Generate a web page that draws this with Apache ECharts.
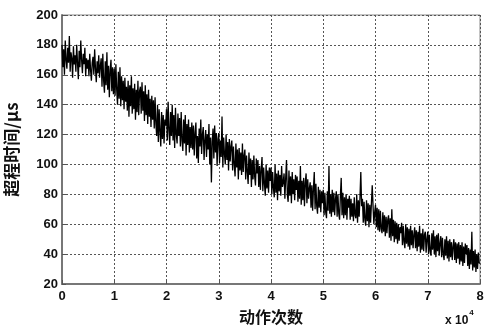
<!DOCTYPE html>
<html><head><meta charset="utf-8">
<script src="https://cdn.jsdelivr.net/npm/echarts@6/dist/echarts.min.js"></script>
<style>html,body{margin:0;padding:0;background:#fff}#c{width:484px;height:327px}</style>
</head><body><div id="c"></div>
<script>
// x in units of 10^4 actions; one sample every 0.015625 (x 10^4)
var sampleStep = 0.015625;
var xTicks = [0,1,2,3,4,5,6,7,8];
var yTicks = [20,40,60,80,100,120,140,160,180,200];
var overtravelTime = [
180,165,177,160,183,170,164,178,168,186,162,175,171,158,179,167,
173,162,180,168,157,176,165,183,170,161,174,167,178,159,171,164,
170,159,174,163,156,168,172,160,177,164,155,169,161,173,158,166,
171,152,174,156,148,169,153,175,150,166,145,163,170,149,165,147,
164,146,167,150,140,162,144,165,139,159,143,156,137,158,142,152,
136,156,132,153,139,159,134,151,137,154,130,150,135,156,133,149,
152,134,155,136,149,129,153,133,147,127,150,132,144,125,146,130,
143,124,145,127,119,140,115,137,122,112,135,117,133,114,130,126,
137,116,142,123,113,135,119,140,116,133,111,138,120,114,134,119,
131,112,135,116,109,130,114,133,106,127,113,130,108,125,111,128,
110,126,106,121,128,104,119,101,124,112,130,107,120,125,103,116,
123,105,120,110,127,100,118,88,115,124,104,126,108,121,99,117,
121,101,116,105,132,98,118,107,100,120,103,115,96,117,102,112,
116,96,112,100,92,114,98,110,90,111,96,108,93,114,95,106,
110,90,106,95,87,108,93,104,85,103,90,106,92,86,104,94,
103,85,99,83,97,105,82,98,87,79,100,84,96,81,98,89,
98,80,95,84,78,100,81,94,76,96,82,93,79,99,85,88,
94,77,91,103,80,75,96,79,92,74,95,80,90,76,93,83,
92,75,89,77,99,73,89,76,91,72,88,94,74,90,77,84,
88,71,86,69,84,95,70,87,72,67,85,71,83,68,82,74,
83,66,81,68,64,82,69,99,67,80,65,83,68,81,66,77,
82,65,80,67,63,79,91,66,81,64,78,66,80,63,77,71,
79,63,77,65,74,62,78,66,64,80,61,76,65,78,95,72,
77,61,75,63,59,76,62,74,58,73,61,74,86,72,60,68,
73,58,71,56,70,55,69,57,54,68,55,66,52,65,54,63,
66,51,64,49,70,52,63,48,62,50,61,47,60,49,58,54,
61,46,59,48,44,60,47,58,45,57,43,59,46,56,44,53,
58,44,56,42,55,45,59,41,54,43,57,42,53,55,41,50,
55,40,53,42,39,54,43,56,40,52,38,53,42,54,39,47,
52,38,51,40,36,50,39,52,37,49,35,50,38,48,36,45,
50,36,48,34,47,37,48,33,46,35,48,32,45,34,47,40,
46,32,44,30,43,33,55,29,42,31,43,28,40,30,41,34,
34
];
var seriesData = overtravelTime.map(function(v,i){return [i*sampleStep, v];});
var chart = echarts.init(document.getElementById('c'), null, {renderer:'canvas'});
var labelFont = {color:'#111', fontFamily:'Liberation Sans, Arial, sans-serif', fontWeight:'bold', fontSize:13};
var gridLine = {show:true, lineStyle:{color:'#555', type:[2,2], width:1}};
chart.setOption({
  animation:false,
  backgroundColor:'#fff',
  grid:{left:62, right:4, top:15, bottom:43, show:true, borderColor:'#888', borderWidth:1,
        containLabel:false, outerBoundsMode:'none'},
  xAxis:{type:'value', min:xTicks[0], max:xTicks[xTicks.length-1], interval:1,
    name:'动作次数', nameLocation:'middle', nameGap:25,
    nameTextStyle:{fontFamily:'Noto Sans CJK SC', fontSize:16, color:'#111', fontWeight:'bold', verticalAlign:'top'},
    axisLine:{show:true, lineStyle:{color:'#777', width:2}},
    axisTick:{show:true, inside:true, length:4, lineStyle:{color:'#555'}},
    axisLabel:Object.assign({margin:6, formatter:function(v){return xTicks.indexOf(v)>=0?String(v):'';}}, labelFont),
    splitLine:gridLine},
  yAxis:{type:'value', min:yTicks[0], max:yTicks[yTicks.length-1], interval:20,
    name:'超程时间/μs', nameLocation:'middle', nameGap:42,
    nameTextStyle:{fontFamily:'Noto Sans CJK SC', fontSize:17, color:'#111', fontWeight:'bold'},
    axisLine:{show:true, lineStyle:{color:'#777', width:2}},
    axisTick:{show:true, inside:true, length:4, lineStyle:{color:'#555'}},
    axisLabel:Object.assign({margin:4}, labelFont),
    splitLine:gridLine},
  graphic:[{type:'text', left:445, top:309, style:{
    text:'{a|x 10}{b|4}', rich:{
      a:{fontFamily:'Liberation Sans, Arial, sans-serif', fontWeight:'bold', fontSize:12, fill:'#111', verticalAlign:'bottom', padding:[6,0,0,0]},
      b:{fontFamily:'Liberation Sans, Arial, sans-serif', fontWeight:'bold', fontSize:8, fill:'#111', verticalAlign:'top', padding:[0,0,8,1]}
    }}}],
  series:[{type:'line', data:seriesData, showSymbol:false, symbol:'none',
    lineStyle:{color:'#000', width:1.3}, clip:true}]
});
</script></body></html>
